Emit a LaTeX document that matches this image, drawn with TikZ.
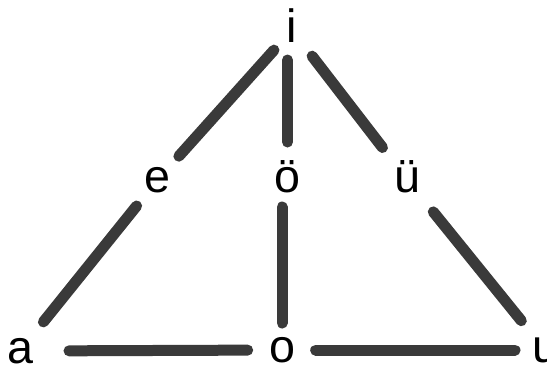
\documentclass[tikz,border=0pt]{standalone}
\usepackage{fontspec}
\setmainfont{Liberation Sans}
\usepackage{tikz}
\definecolor{bargray}{RGB}{58,58,58}

\begin{document}
\begin{tikzpicture}[x=0.75pt, y=-0.75pt,
    vowel/.style={font=\fontsize{35}{40}\selectfont, inner sep=0pt, text height=18pt, text depth=0pt},
    bar/.style={line width=8.25pt, line cap=round, draw=bargray}]

    \useasboundingbox (0,0) rectangle (547,365);

    % vowels
    \node[vowel] (i) at (292,30) {i};
    \node[vowel] (e) at (157.5,180) {e};
    \node[vowel] (oe) at (287.5,180) {ö};
    \node[vowel] (ue) at (407.5,180) {ü};
    \node[vowel] (a) at (20,351) {a};
    \node[vowel] (o) at (282,350) {o};
    \node[vowel] (u) at (545,350) {u};

    % front edge
    \draw[bar, shorten <=20.25pt, shorten >=24pt] (i.center) -- (e.center);
    \draw[bar, shorten <=25pt, shorten >=28pt] (e.center) -- (a.center);

    % middle edge (kept upright)
    \draw[bar, shorten <=22.5pt, shorten >=28.5pt] (oe.center |- i.center) -- (oe.center);
    \draw[bar, shorten <=20.25pt, shorten >=20.25pt] (o.center |- oe.center) -- (o.center);

    % back edge
    \draw[bar, shorten <=24.75pt, shorten >=30.75pt] (i.center) -- (ue.center);
    \draw[bar, shorten <=30.75pt, shorten >=28.25pt] (ue.center) -- (u.center);

    % bottom edge
    \draw[bar, shorten <=36.75pt, shorten >=25.75pt] (a.center) -- (o.center);
    \draw[bar, shorten <=25.25pt, shorten >=22.5pt] (o.center) -- (u.center);

\end{tikzpicture}
\end{document}
